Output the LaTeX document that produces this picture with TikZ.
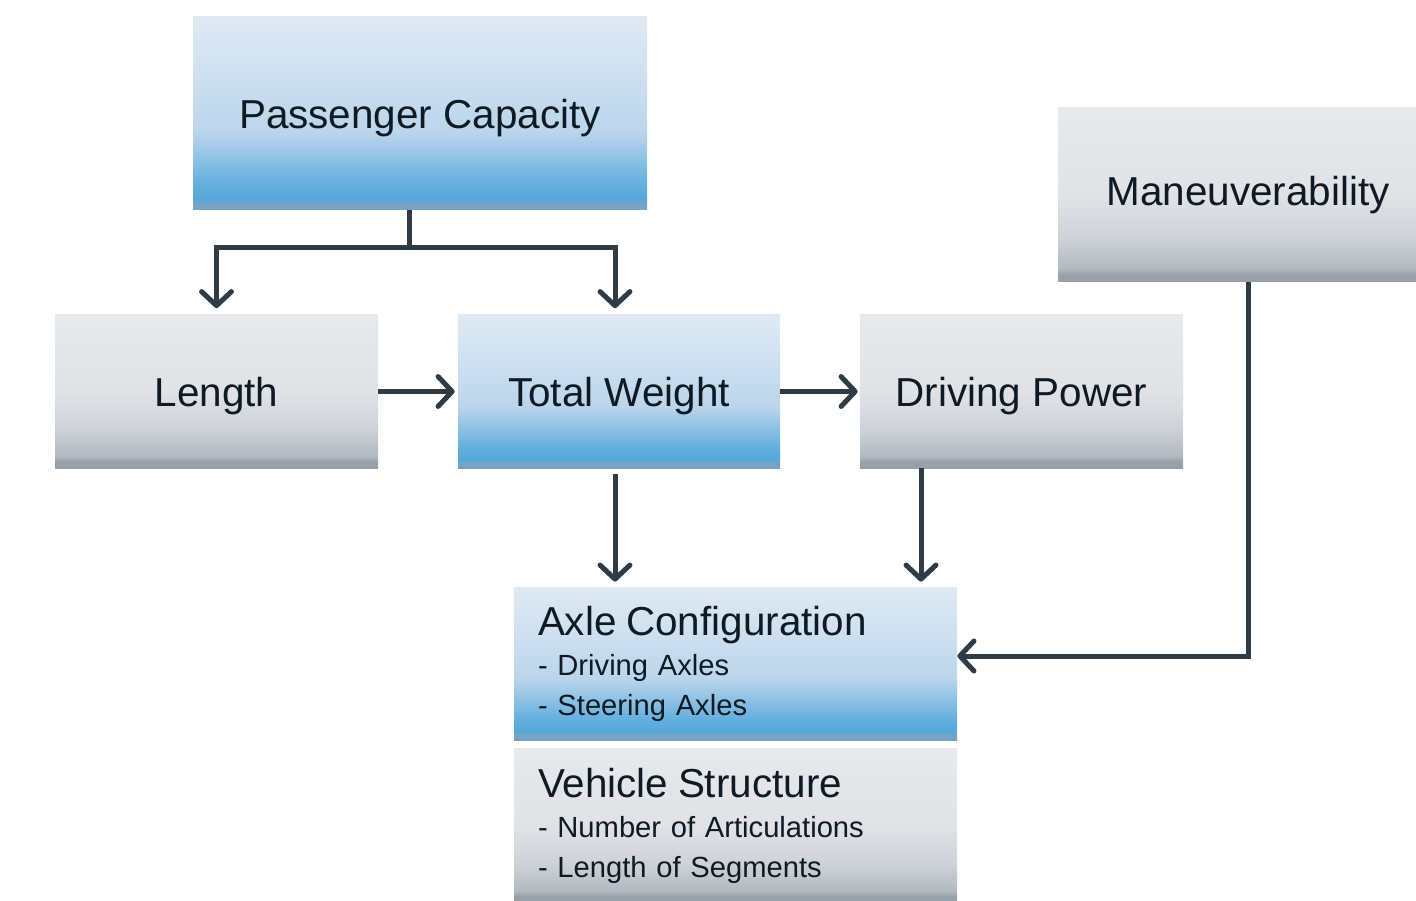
\documentclass[tikz,border=0pt]{standalone}
\usepackage{fontspec}
\setmainfont{Liberation Sans}
\usepackage{tikz}
\usetikzlibrary{positioning,arrows.meta,calc}
\usepackage{xcolor}
\definecolor{txtdark}{RGB}{14,26,36}
\definecolor{arrdark}{RGB}{47,60,69}
\definecolor{bxbase}{RGB}{120,162,196}
\definecolor{bxdeep}{RGB}{84,167,218}
\definecolor{bxlow}{RGB}{104,177,223}
\definecolor{bxmid}{RGB}{186,213,235}
\definecolor{bxupper}{RGB}{206,224,240}
\definecolor{bxtop}{RGB}{223,233,243}
\definecolor{gxbase}{RGB}{152,160,168}
\definecolor{gxdeep}{RGB}{178,185,192}
\definecolor{gxlow}{RGB}{206,210,215}
\definecolor{gxmid}{RGB}{224,226,230}
\definecolor{gxtop}{RGB}{231,233,237}
\pgfdeclareverticalshading{blueboxshade}{100bp}{color(0bp)=(bxbase); color(26.5bp)=(bxbase); color(28bp)=(bxdeep); color(32.5bp)=(bxlow); color(45bp)=(bxmid); color(60bp)=(bxupper); color(75bp)=(bxtop); color(100bp)=(bxtop)}
\pgfdeclareverticalshading{grayboxshade}{100bp}{color(0bp)=(gxbase); color(27bp)=(gxbase); color(29bp)=(gxdeep); color(37.5bp)=(gxlow); color(50bp)=(gxmid); color(75bp)=(gxtop); color(100bp)=(gxtop)}
\newcommand{\hdfont}{\fontsize{23}{22.8}\selectfont}

\begin{document}
\begin{tikzpicture}[font=\fontsize{23}{27}\selectfont]
\tikzset{
  BX/.style={rectangle,shading=blueboxshade,text=txtdark,minimum width=6.44cm,minimum height=3.06cm,inner sep=0pt},
  GX/.style={rectangle,shading=grayboxshade,text=txtdark,minimum width=6.46cm,minimum height=3.06cm,inner sep=0pt},
  one/.style={text depth=0pt},
  LS/.style={text width=7.9cm,inner xsep=0.48cm,inner ysep=0pt,align=left,font=\fontsize{16.6}{22.8}\selectfont},
  FL/.style={-{Straight Barb[length=8pt,width=17pt,line cap=round,line join=round]},line width=2.85pt,arrdark},
  LN/.style={line width=2.85pt,arrdark},
}
\clip (0,0) rectangle (28.32,-18.02);
\useasboundingbox (0,0) rectangle (28.32,-18.02);

\node[BX,one,minimum width=9.08cm,minimum height=3.86cm](pass) at (8.40,-2.27){Passenger Capacity};
\node[GX,minimum width=7.60cm,minimum height=3.48cm](manv) at (24.96,-3.90){Maneuverability};

\node[GX,one](len) at ( 4.33,-7.83){Length};
\node[BX,one](tw)  at (12.38,-7.83){Total Weight};
\node[GX,one](dp)  at (20.43,-7.83){Driving Power};

\node[BX,LS,minimum height=3.06cm](axle) at (14.71,-13.27){{\hdfont Axle Configuration}\\- Driving Axles\\- Steering Axles};
\node[GX,LS,minimum height=3.10cm](veh) at (14.71,-16.51){{\hdfont Vehicle Structure}\\- Number of Articulations\\- Length of Segments};

\path ([xshift=-0.22cm]pass.south) ++(0,-0.74) coordinate (fork);
\draw[LN]([xshift=-0.22cm]pass.south)--(fork);
\draw[FL,shorten >=0.13cm](fork)-|(len.north);
\draw[FL,shorten >=0.13cm](fork)-|([xshift=-0.08cm]tw.north);

\draw[FL,shorten >=0.06cm](len.east)--(tw.west);
\draw[FL,shorten >=0.04cm](tw.east)--(dp.west);

\draw[FL,shorten <=0.12cm,shorten >=0.1cm]([xshift=-0.08cm]tw.south)--([xshift=-0.08cm]tw.south |- axle.north);
\draw[FL,shorten >=0.1cm]([xshift=-2.01cm]dp.south)--([xshift=-2.01cm]dp.south |- axle.north);

\draw[FL](manv.south)|-([yshift=0.15cm]axle.east);

\end{tikzpicture}
\end{document}
